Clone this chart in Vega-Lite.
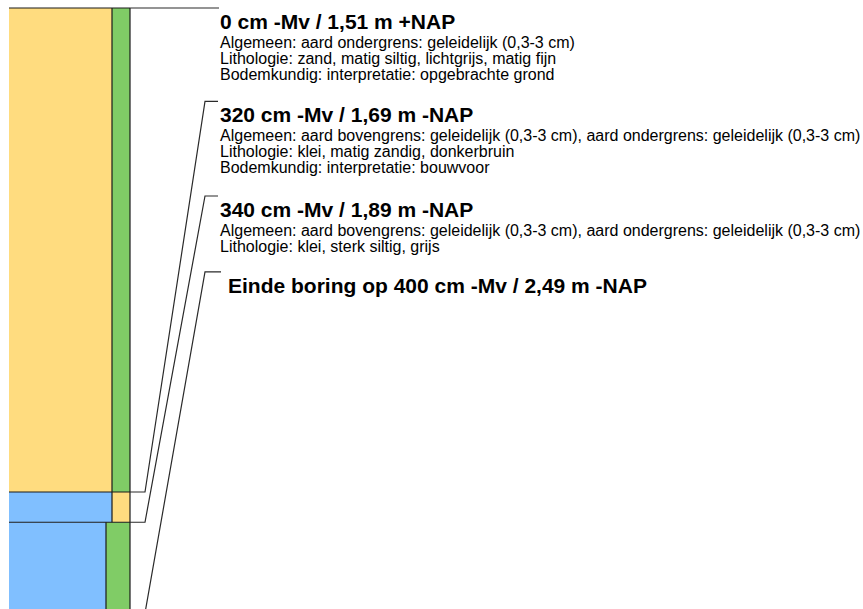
{
  "$schema": "https://vega.github.io/schema/vega-lite/v6.json",
  "width": 863,
  "height": 609,
  "autosize": {"type": "none"},
  "padding": 0,
  "background": "white",
  "config": {"view": {"stroke": null}, "font": "Liberation Sans"},
  "datasets": {
    "lagen": [
      {"x": 9, "x2": 112, "boven": 0, "onder": 320, "kleur": "geel"},
      {"x": 112, "x2": 130, "boven": 0, "onder": 320, "kleur": "groen"},
      {"x": 9, "x2": 112, "boven": 320, "onder": 340, "kleur": "blauw"},
      {"x": 112, "x2": 130, "boven": 320, "onder": 340, "kleur": "geel"},
      {"x": 9, "x2": 106, "boven": 340, "onder": 400, "kleur": "blauw"},
      {"x": 106, "x2": 130, "boven": 340, "onder": 400, "kleur": "groen"}
    ],
    "randen": [
      {"x": 9, "x2": 130, "d": 0, "d2": 0},
      {"x": 112, "x2": 112, "d": 0, "d2": 340},
      {"x": 106, "x2": 106, "d": 340, "d2": 400},
      {"x": 130, "x2": 130, "d": 0, "d2": 400},
      {"x": 9, "x2": 130, "d": 320, "d2": 320},
      {"x": 9, "x2": 130, "d": 340, "d2": 340}
    ],
    "verbindingen": [
      {"id": "a", "n": 1, "x": 130, "d": 0},
      {"id": "a", "n": 2, "x": 145, "d": 0},
      {"id": "a", "n": 3, "x": 205, "d": 0},
      {"id": "a", "n": 4, "x": 219, "d": 0},
      {"id": "b", "n": 1, "x": 130, "d": 320},
      {"id": "b", "n": 2, "x": 145, "d": 320},
      {"id": "b", "n": 3, "x": 205, "d": 61.8},
      {"id": "b", "n": 4, "x": 218, "d": 61.8},
      {"id": "c", "n": 1, "x": 130, "d": 340},
      {"id": "c", "n": 2, "x": 145, "d": 340},
      {"id": "c", "n": 3, "x": 205, "d": 124.3},
      {"id": "c", "n": 4, "x": 218, "d": 124.3},
      {"id": "e", "n": 1, "x": 130, "d": 400},
      {"id": "e", "n": 2, "x": 145, "d": 400},
      {"id": "e", "n": 3, "x": 205, "d": 174.5},
      {"id": "e", "n": 4, "x": 221, "d": 174.5}
    ],
    "teksten": [
      {"soort": "kop", "x": 220, "d": 13.8, "tekst": "0 cm -Mv / 1,51 m +NAP"},
      {"soort": "regel", "x": 220, "d": 26.3, "tekst": "Algemeen: aard ondergrens: geleidelijk (0,3-3 cm)"},
      {"soort": "regel", "x": 220, "d": 36.9, "tekst": "Lithologie: zand, matig siltig, lichtgrijs, matig fijn"},
      {"soort": "regel", "x": 220, "d": 47.5, "tekst": "Bodemkundig: interpretatie: opgebrachte grond"},
      {"soort": "kop", "x": 220, "d": 75.6, "tekst": "320 cm -Mv / 1,69 m -NAP"},
      {"soort": "regel", "x": 220, "d": 88.1, "tekst": "Algemeen: aard bovengrens: geleidelijk (0,3-3 cm), aard ondergrens: geleidelijk (0,3-3 cm)"},
      {"soort": "regel", "x": 220, "d": 98.7, "tekst": "Lithologie: klei, matig zandig, donkerbruin"},
      {"soort": "regel", "x": 220, "d": 109.3, "tekst": "Bodemkundig: interpretatie: bouwvoor"},
      {"soort": "kop", "x": 220, "d": 138.1, "tekst": "340 cm -Mv / 1,89 m -NAP"},
      {"soort": "regel", "x": 220, "d": 150.6, "tekst": "Algemeen: aard bovengrens: geleidelijk (0,3-3 cm), aard ondergrens: geleidelijk (0,3-3 cm)"},
      {"soort": "regel", "x": 220, "d": 161.2, "tekst": "Lithologie: klei, sterk siltig, grijs"},
      {"soort": "kop", "x": 228, "d": 188.4, "tekst": "Einde boring op 400 cm -Mv / 2,49 m -NAP"}
    ]
  },
  "layer": [
    {
      "data": {"name": "lagen"},
      "mark": {"type": "rect", "strokeWidth": 0},
      "encoding": {
        "x": {"field": "x", "type": "quantitative", "scale": {"domain": [0, 863], "nice": false, "zero": false}, "axis": null},
        "x2": {"field": "x2"},
        "y": {"field": "boven", "type": "quantitative", "scale": {"domain": [0, 400], "range": [8, 613], "nice": false, "zero": false}, "axis": null},
        "y2": {"field": "onder"},
        "color": {"field": "kleur", "type": "nominal", "scale": {"domain": ["geel", "groen", "blauw"], "range": ["#ffdc7f", "#80cc66", "#80bfff"]}, "legend": null}
      }
    },
    {
      "data": {"name": "randen"},
      "mark": {"type": "rule", "color": "#1a1a1a", "strokeWidth": 1.2},
      "encoding": {
        "x": {"field": "x", "type": "quantitative"},
        "x2": {"field": "x2"},
        "y": {"field": "d", "type": "quantitative"},
        "y2": {"field": "d2"}
      }
    },
    {
      "data": {"name": "verbindingen"},
      "mark": {"type": "line", "color": "#2a2a2a", "strokeWidth": 1.2, "interpolate": "linear"},
      "encoding": {
        "x": {"field": "x", "type": "quantitative"},
        "y": {"field": "d", "type": "quantitative"},
        "detail": {"field": "id", "type": "nominal"},
        "order": {"field": "n", "type": "quantitative"}
      }
    },
    {
      "data": {"name": "teksten"},
      "transform": [{"filter": "datum.soort === 'kop'"}],
      "mark": {"type": "text", "align": "left", "baseline": "alphabetic", "fontSize": 21, "fontWeight": "bold", "color": "#000000", "font": "Liberation Sans"},
      "encoding": {
        "x": {"field": "x", "type": "quantitative"},
        "y": {"field": "d", "type": "quantitative"},
        "text": {"field": "tekst", "type": "nominal"}
      }
    },
    {
      "data": {"name": "teksten"},
      "transform": [{"filter": "datum.soort === 'regel'"}],
      "mark": {"type": "text", "align": "left", "baseline": "alphabetic", "fontSize": 16, "color": "#000000", "font": "Liberation Sans"},
      "encoding": {
        "x": {"field": "x", "type": "quantitative"},
        "y": {"field": "d", "type": "quantitative"},
        "text": {"field": "tekst", "type": "nominal"}
      }
    }
  ]
}
